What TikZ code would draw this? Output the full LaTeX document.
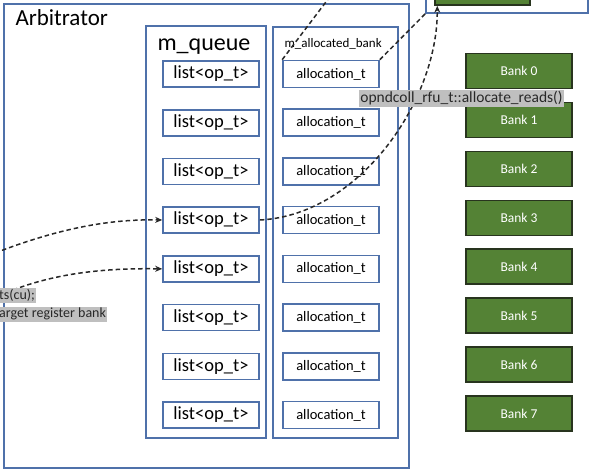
\documentclass[tikz,border=0pt]{standalone}
\usepackage{fontspec}
\setmainfont{Carlito}
\usetikzlibrary{arrows.meta}
\definecolor{boxblue}{RGB}{79,113,170}
\definecolor{bankgreen}{RGB}{84,130,53}
\definecolor{bankedge}{RGB}{40,52,30}
\definecolor{hlgray}{RGB}{191,191,191}
\definecolor{inkgray}{RGB}{40,40,40}
\tikzset{
  frame/.style={draw=boxblue, line width=1.4pt, fill=white},
  listbox/.style={draw=boxblue, line width=1.6pt, fill=white, minimum width=96pt,
    minimum height=26pt, inner sep=0pt, font=\fontsize{18.5}{20}\selectfont},
  allocbox/.style={draw=boxblue, line width=1.6pt, fill=white, minimum width=96pt,
    minimum height=27pt, inner sep=0pt, font=\fontsize{14.5}{16}\selectfont},
  bankbox/.style={draw=bankedge, line width=1.5pt, fill=bankgreen, text=white,
    minimum width=106pt, minimum height=35pt, inner sep=0pt,
    font=\fontsize{13.5}{14}\selectfont},
  hilite/.style={fill=hlgray, text=inkgray, inner xsep=1pt, inner ysep=2pt},
  flow/.style={draw=inkgray, line width=1.5pt, dash pattern=on 4.5pt off 3pt},
  tip/.style={-{Stealth[length=7pt,width=6pt]}}
}
\begin{document}
\begin{tikzpicture}[x=1pt,y=-1pt]
\useasboundingbox (0,0) rectangle (590,471);
\clip (0,0) rectangle (590,471);

% outer arbitrator frame and its two containers
\draw[frame] (4,4) rectangle (409,468);
\node[anchor=base west, font=\fontsize{23}{24}\selectfont] (arbt) at (12,26) {Arbitrator};
\draw[frame] (146,26) rectangle (266,438);
\node[anchor=base west, font=\fontsize{24}{25}\selectfont] (qt) at (154,50) {m\_queue};
\draw[frame] (273,27) rectangle (398,438);
\node[anchor=base west, font=\fontsize{13}{14}\selectfont] (abt) at (281,47) {m\_allocated\_bank};

% queue entries and bank allocations, one row each
\foreach \i/\y in {1/74,2/122.7,3/171.4,4/220,5/268.9,6/317.6,7/366.3,8/415}{
  \node[listbox] (q\i) at (211,\y) {list<op\_t>};
  \node[allocbox] (a\i) at (331,\y) {allocation\_t};
}

% register banks
\foreach \i/\y in {0/71,1/119.9,2/168.9,3/217.8,4/266.7,5/315.6,6/364.6,7/413.5}{
  \node[bankbox] (b\i) at (519,\y) {Bank \i};
}

% collector unit box at the top edge
\node[frame, minimum width=162pt, minimum height=43pt, inner sep=0pt] (tb) at (507,-8.5) {};
\node[draw=bankedge, line width=1.5pt, fill=bankgreen, minimum width=95pt,
      minimum height=35pt, inner sep=0pt] (grn) at (482.5,-12.5) {};

% free ends of the incoming requests
\coordinate (in1) at (-5,253);
\coordinate (in2) at (13,290);
\coordinate (up) at (335,-10);

% dashed request flows
\draw[flow, tip] (in1) .. controls (60,228) and (110,219) .. (q4.west);
\draw[flow, tip] (in2) .. controls (60,272) and (110,268) .. (q5.west);
\draw[flow, tip] (q4.east) .. controls (360,215) and (438,100) .. ([xshift=3pt]grn.south west);
\draw[flow] (a1.north west) -- (up);
\draw[flow] (a1.north east) -- (tb.south west);

% highlighted call labels
\node[hilite, font=\fontsize{15.5}{17}\selectfont] (rd) at (461.5,98.5)
  {opndcoll\_rfu\_t::allocate\_reads()};
\node[hilite, anchor=north west, font=\fontsize{14}{15}\selectfont, inner ysep=1.5pt] (l1) at (-2,288) {ts(cu);};
\node[hilite, anchor=north west, font=\fontsize{14}{15}\selectfont, inner ysep=1.5pt] (l2) at (-2,306.5) {arget register bank};
\end{tikzpicture}
\end{document}
